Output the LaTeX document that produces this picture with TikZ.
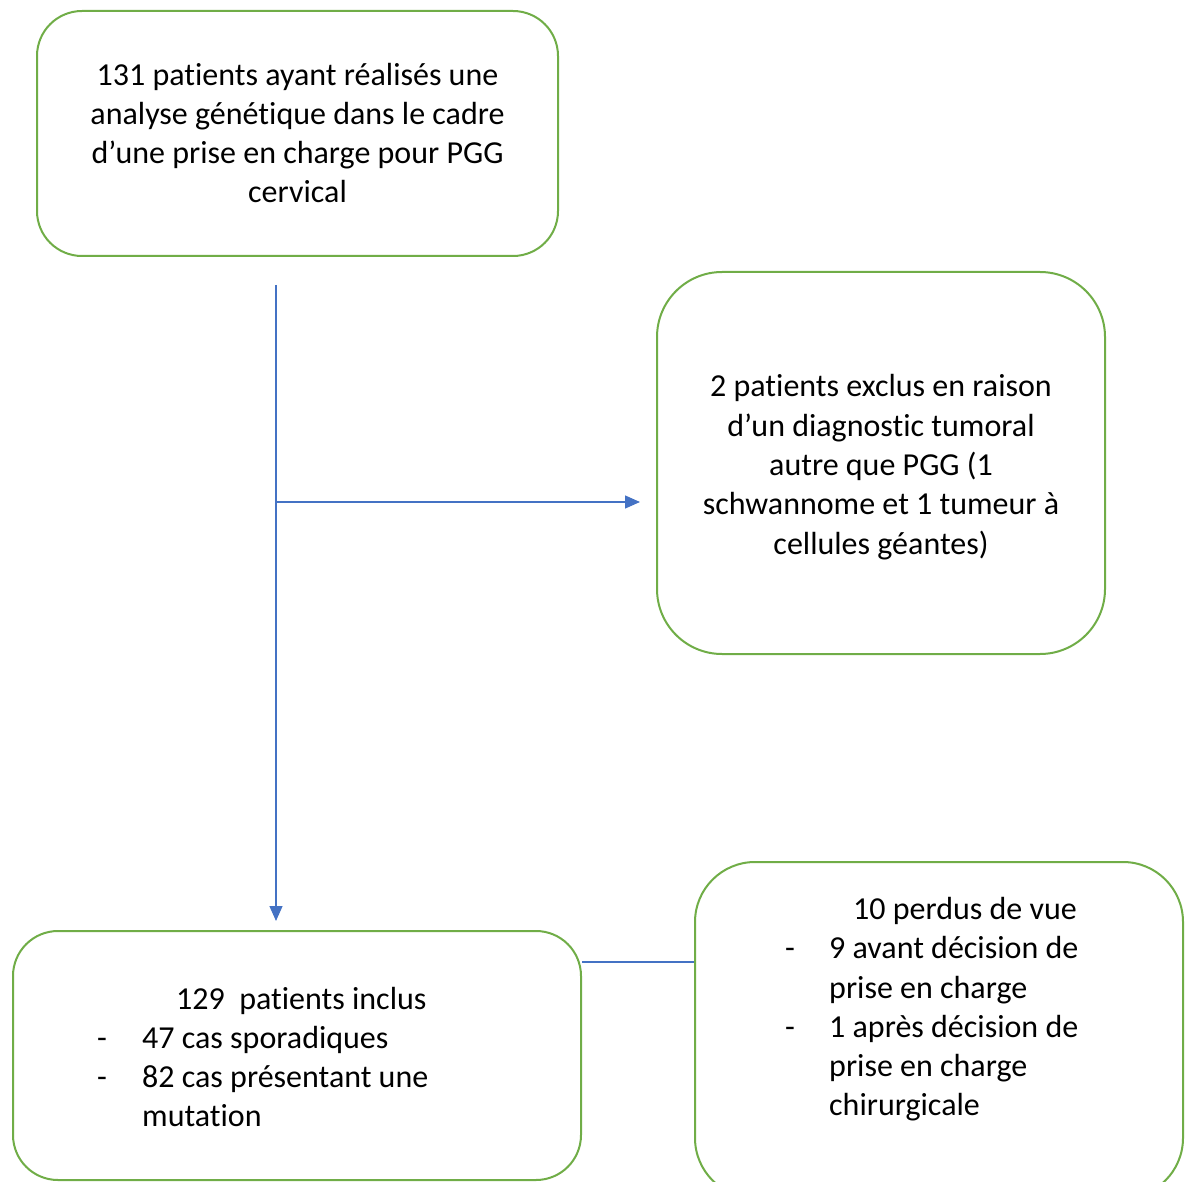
\documentclass[tikz,border=0pt]{standalone}
\usepackage{fontspec}
\setmainfont{Carlito}[Ligatures={NoCommon}]
\usetikzlibrary{arrows.meta}
\definecolor{boxgreen}{HTML}{70AD47}
\definecolor{lineblue}{HTML}{4472C4}
\tikzset{
  roundbox/.style={draw=boxgreen, line width=2pt, fill=white, inner sep=0pt},
  conn/.style={draw=lineblue, line width=1.3pt},
  arr/.style={conn, -{Triangle[width=13pt,length=15pt]}},
  txt/.style={inner sep=0pt, anchor=base, font=\fontsize{32}{39}\selectfont},
  txtl/.style={txt, anchor=base west},
}
\begin{document}
\begin{tikzpicture}[x=1pt,y=-1pt]
\useasboundingbox (0,0) rectangle (1191,1182);
% boxes
\node[roundbox, rounded corners=45pt, minimum width=521pt, minimum height=245pt] (box1) at (297.5,133.5) {};
\node[roundbox, rounded corners=65pt, minimum width=448pt, minimum height=382pt] (box2) at (881,463) {};
\node[roundbox, rounded corners=45pt, minimum width=568pt, minimum height=249pt] (box3) at (297,1055.5) {};
\node[roundbox, rounded corners=60pt, minimum width=488pt, minimum height=336pt] (box4) at (939,1030) {};
% box1 text
\node[txt] (t1a) at (297.5,86) {131 patients ayant réalisés une};
\node[txt] (t1b) at (297.5,125) {analyse génétique dans le cadre};
\node[txt] (t1c) at (297.5,164) {d’une prise en charge pour PGG};
\node[txt] (t1d) at (297.5,203) {cervical};
% box2 text
\node[txt] (t2a) at (881,396) {2 patients exclus en raison};
\node[txt] (t2b) at (881,436) {d’un diagnostic tumoral};
\node[txt] (t2c) at (881,475) {autre que PGG (1};
\node[txt] (t2d) at (881,514) {schwannome et 1 tumeur à};
\node[txt] (t2e) at (881,554) {cellules géantes)};
% box3 text
\node[txtl] (t3a) at (176,1009) {129\ \ patients inclus};
\node[txtl] (d3a) at (97,1048) {-};
\node[txtl] (t3b) at (142,1048) {47 cas sporadiques};
\node[txtl] (d3b) at (97,1087) {-};
\node[txtl] (t3c) at (142,1087) {82 cas présentant une};
\node[txtl] (t3d) at (142,1126) {mutation};
% box4 text
\node[txtl] (t4a) at (853,919) {10 perdus de vue};
\node[txtl] (d4a) at (785,958) {-};
\node[txtl] (t4b) at (829,958) {9 avant décision de};
\node[txtl] (t4c) at (829,998) {prise en charge};
\node[txtl] (d4b) at (785,1037) {-};
\node[txtl] (t4d) at (829,1037) {1 après décision de};
\node[txtl] (t4e) at (829,1076) {prise en charge};
\node[txtl] (t4f) at (829,1115) {chirurgicale};
% connectors
\coordinate (vstart) at (276,285);
\coordinate (vend) at (276,921);
\coordinate (branch) at (276,502);
\coordinate (hend) at (640,502);
\coordinate (mid) at (0,962);
\draw[arr] (vstart) -- (vend);
\draw[arr] (branch) -- (hend);
\draw[conn] (box3.east |- mid) -- (box4.west |- mid);
\end{tikzpicture}
\end{document}
